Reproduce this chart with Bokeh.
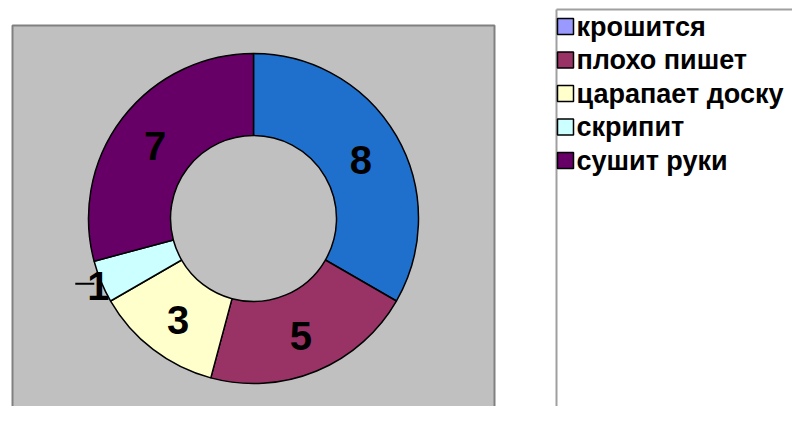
import math
from bokeh.plotting import figure
from bokeh.models import Range1d, ColumnDataSource
from bokeh.core.properties import value
from bokeh.embed import file_html
from bokeh.resources import INLINE

categories = ["крошится", "плохо пишет", "царапает доску", "скрипит", "сушит руки"]
values = [8, 5, 3, 1, 7]
slice_colors = ["#1f6fcc", "#993366", "#ffffcc", "#ccffff", "#660066"]
legend_colors = ["#9999ff", "#993366", "#ffffcc", "#ccffff", "#660066"]

W, H = 792, 406
# data coords: x = picture x, y = 422 - picture y
p = figure(width=W, height=H, output_backend="svg", toolbar_location=None,
           x_range=Range1d(0, W), y_range=Range1d(422 - H, 422),
           min_border=0)
p.axis.visible = False
p.grid.visible = False
p.outline_line_color = None
p.background_fill_color = "white"
p.border_fill_color = "white"

def Y(py):
    return 422 - py

# plot area (gray)
p.quad(left=[12], right=[494], top=[Y(25)], bottom=[Y(415)],
       fill_color="#c0c0c0", line_color="#808080", line_width=2)

# donut
cx, cy = 253, Y(218)
r_out, r_in = 165, 83
total = sum(values)
starts, ends, mids = [], [], []
acc = 0
for v in values:
    a0 = math.pi / 2 - 2 * math.pi * acc / total
    acc += v
    a1 = math.pi / 2 - 2 * math.pi * acc / total
    starts.append(a0)
    ends.append(a1)
    mids.append((a0 + a1) / 2)

src = ColumnDataSource(dict(start=starts, end=ends, color=slice_colors))
p.annular_wedge(x=cx, y=cy, inner_radius=r_in, outer_radius=r_out,
                start_angle="start", end_angle="end", direction="clock",
                fill_color="color", line_color="black", line_width=1.5, source=src)

# data labels
lx, ly, lt = [], [], []
for v, m in zip(values, mids):
    r = 124 if v / total > 0.05 else 168
    lx.append(cx + r * math.cos(m))
    ly.append(cy + r * math.sin(m) - 3)
    lt.append(str(v))
p.text(x=lx, y=ly, text=lt, text_font=value("Liberation Sans"), text_font_style="bold",
       text_font_size="40px", text_align="center", text_baseline="middle", text_color="black")

# leader line for the small slice label
for v, x0, y0 in zip(values, lx, ly):
    if v / total <= 0.05:
        p.segment(x0=[x0 - 23], y0=[y0 + 2], x1=[x0 - 4], y1=[y0 + 2],
                  line_color="black", line_width=2)

# legend box
p.segment(x0=[556, 556], y0=[Y(9), Y(9)], x1=[556, W], y1=[Y(422), Y(9)],
          line_color="#a0a0a0", line_width=2)

leg_y = [Y(26 + 33.5 * i) for i in range(len(categories))]
p.rect(x=[565] * len(categories), y=leg_y, width=16, height=16,
       fill_color=legend_colors, line_color="black", line_width=1.5)
p.text(x=[576] * len(categories), y=leg_y, text=categories,
       text_font=value("Liberation Sans"), text_font_style="bold",
       text_font_size="27px", text_align="left", text_baseline="middle", text_color="black")

open("out.html", "w").write(file_html(p, INLINE))
